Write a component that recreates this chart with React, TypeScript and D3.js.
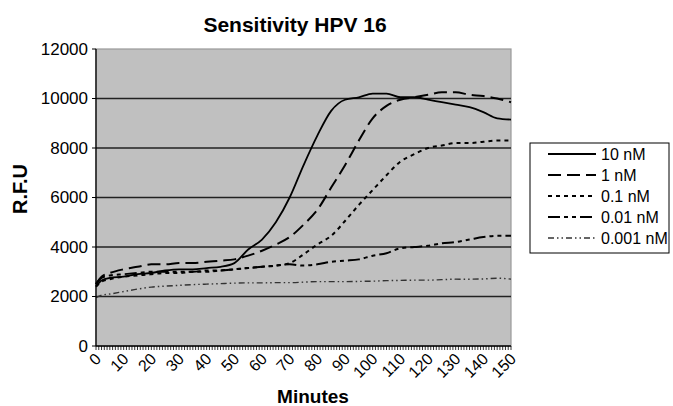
import React from "react";
import * as d3 from "d3";

const minutes = [0, 2, 5, 10, 15, 20, 25, 30, 35, 40, 45, 50, 55, 60, 65, 70, 75, 80, 85, 90, 95, 100, 105, 110, 115, 120, 125, 130, 135, 140, 145, 150];

const nM10 = [2400, 2650, 2750, 2800, 2900, 2950, 3050, 3100, 3100, 3150, 3200, 3350, 3900, 4300, 5000, 6000, 7300, 8500, 9500, 9950, 10050, 10200, 10200, 10050, 10050, 9950, 9850, 9750, 9650, 9450, 9200, 9150];
const nM1 = [2500, 2800, 2950, 3100, 3200, 3300, 3300, 3350, 3350, 3400, 3450, 3500, 3650, 3850, 4100, 4400, 4900, 5500, 6400, 7300, 8300, 9200, 9700, 9950, 10050, 10150, 10250, 10250, 10150, 10100, 10000, 9850];
const nM01 = [2400, 2600, 2700, 2800, 2850, 2900, 2950, 2950, 3000, 3000, 3050, 3100, 3150, 3200, 3250, 3350, 3700, 4100, 4450, 5050, 5700, 6300, 6900, 7450, 7750, 8000, 8100, 8200, 8200, 8250, 8300, 8300];
const nM001 = [2500, 2750, 2850, 2900, 2950, 3000, 3000, 3000, 3000, 3050, 3050, 3100, 3150, 3200, 3250, 3300, 3250, 3300, 3400, 3450, 3500, 3650, 3750, 3950, 4000, 4050, 4150, 4200, 4300, 4400, 4450, 4450];
const nM0001 = [1950, 2050, 2100, 2200, 2300, 2380, 2420, 2450, 2480, 2500, 2520, 2540, 2550, 2550, 2560, 2560, 2580, 2600, 2600, 2600, 2610, 2620, 2640, 2650, 2660, 2660, 2680, 2700, 2700, 2710, 2740, 2700];

const seriesNames = ["10 nM", "1 nM", "0.1 nM", "0.01 nM", "0.001 nM"];
const seriesValues = [nM10, nM1, nM01, nM001, nM0001];

const yTicks = [0, 2000, 4000, 6000, 8000, 10000, 12000];
const xTicks = [0, 10, 20, 30, 40, 50, 60, 70, 80, 90, 100, 110, 120, 130, 140, 150];

const styles = [
  { dash: "none", width: 1.8, color: "#000" },
  { dash: "13,6", width: 2, color: "#000" },
  { dash: "4,4", width: 2, color: "#000" },
  { dash: "12,4,4,4,4,4", width: 2, color: "#000" },
  { dash: "6,3,1.5,3,1.5,3", width: 1.4, color: "#333" },
];

const font = "'Liberation Sans', Arial, sans-serif";

export default function App() {
  const width = 673;
  const height = 406;
  const margin = { top: 49, right: 162, bottom: 60, left: 96 };

  const x = d3.scaleLinear().domain([0, 150]).range([margin.left, width - margin.right]);
  const y = d3.scaleLinear().domain([0, 12000]).range([height - margin.bottom, margin.top]);

  const line = d3
    .line<number>()
    .x((_, i) => x(minutes[i]))
    .y((d) => y(d))
    .curve(d3.curveMonotoneX);

  const minorTicks = d3.range(0, 151, 1);
  const legendRows = [154, 175, 196, 217, 238];

  return (
    <svg
      width={width}
      height={height}
      style={{ position: "absolute", left: 0, top: 0, background: "#fff" }}
      fontFamily={font}
    >
      <text x={295} y={32} textAnchor="middle" fontSize={21} fontWeight="bold">
        Sensitivity HPV 16
      </text>

      {/* plot area */}
      <rect
        x={x(0)}
        y={y(12000)}
        width={x(150) - x(0)}
        height={y(0) - y(12000)}
        fill="#c0c0c0"
        stroke="#999"
        strokeWidth={1.2}
      />

      {yTicks.slice(1, -1).map((t) => (
        <line key={t} x1={x(0)} x2={x(150)} y1={y(t)} y2={y(t)} stroke="#222" strokeWidth={1.3} />
      ))}

      {seriesValues.map((vals, i) => (
        <path
          key={seriesNames[i]}
          d={line(vals) || ""}
          fill="none"
          stroke={styles[i].color}
          strokeWidth={styles[i].width}
          strokeDasharray={styles[i].dash}
        />
      ))}

      {/* axes */}
      <line x1={x(0)} x2={x(0)} y1={y(0)} y2={y(12000)} stroke="#000" strokeWidth={1.3} />
      <line x1={x(0)} x2={x(150)} y1={y(0)} y2={y(0)} stroke="#000" strokeWidth={1.3} />

      {yTicks.map((t) => (
        <g key={t}>
          <line x1={x(0) - 4} x2={x(0)} y1={y(t)} y2={y(t)} stroke="#000" />
          <text x={x(0) - 8} y={y(t)} dy="0.35em" textAnchor="end" fontSize={17}>
            {t}
          </text>
        </g>
      ))}

      {minorTicks.map((t) => (
        <line key={t} x1={x(t)} x2={x(t)} y1={y(0)} y2={y(0) + 4} stroke="#000" strokeWidth={0.8} />
      ))}

      {xTicks.map((t) => (
        <text
          key={t}
          transform={`translate(${x(t) + 2},${y(0) + 10}) rotate(-45)`}
          dy="0.35em"
          textAnchor="end"
          fontSize={16}
        >
          {t}
        </text>
      ))}

      <text x={313} y={403} textAnchor="middle" fontSize={19} fontWeight="bold">
        Minutes
      </text>
      <text transform="translate(27,189) rotate(-90)" textAnchor="middle" fontSize={20} fontWeight="bold">
        R.F.U
      </text>

      {/* legend */}
      <rect x={530} y={143} width={139} height={110} fill="#fff" stroke="#000" strokeWidth={1} />
      {seriesNames.map((name, i) => (
        <g key={name}>
          <line
            x1={548}
            x2={596}
            y1={legendRows[i]}
            y2={legendRows[i]}
            stroke={styles[i].color}
            strokeWidth={styles[i].width}
            strokeDasharray={styles[i].dash}
          />
          <text x={601} y={legendRows[i]} dy="0.35em" fontSize={16}>
            {name}
          </text>
        </g>
      ))}
    </svg>
  );
}
